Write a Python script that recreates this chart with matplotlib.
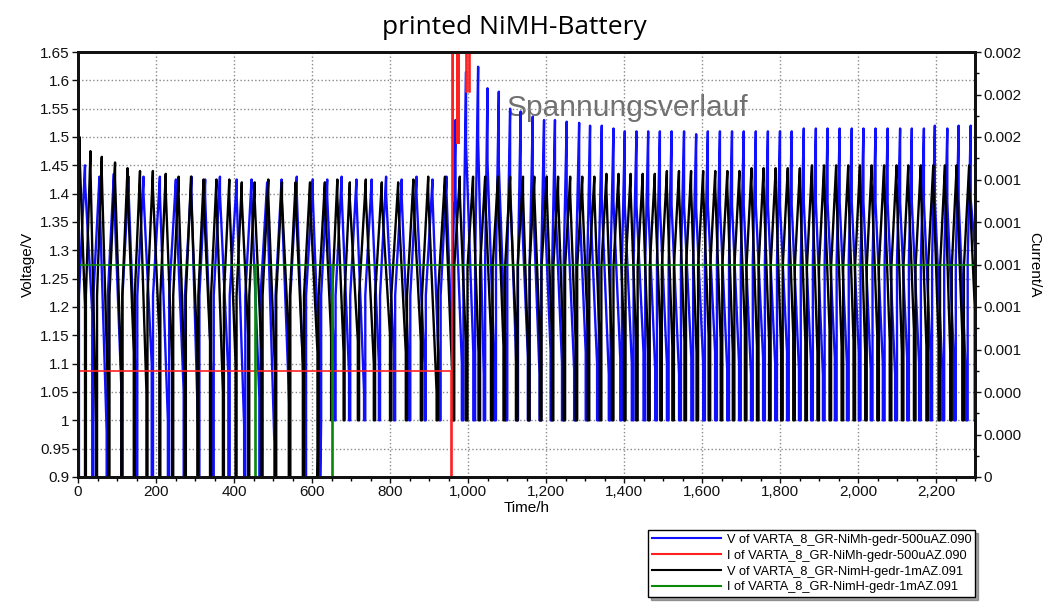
import numpy as np
import matplotlib
matplotlib.use('Agg')
import matplotlib.pyplot as plt
from matplotlib.lines import Line2D
from matplotlib.ticker import MultipleLocator, FuncFormatter

plt.rcParams['font.family'] = 'Liberation Sans'

# ── Voltage cycles, cell .090 (500 uA) ────────────────────────────────────
# phase 1: before the change at ~960 h
b1_peak_t = [18, 55, 92, 130, 168, 210, 251, 291, 326, 364, 407, 445, 485,
             522, 561, 602, 639, 676, 714, 753, 790, 830, 868, 909, 945]
b1_peak_v = [1.45, 1.43, 1.435, 1.43, 1.43, 1.43, 1.425, 1.43, 1.425, 1.43,
             1.425, 1.425, 1.42, 1.425, 1.43, 1.425, 1.425, 1.43, 1.425,
             1.425, 1.43, 1.425, 1.43, 1.425, 1.43]
b1_end_v = [1.19, 0.98, 1.06, 1.05, 1.10, 1.00, 1.05, 0.97, 1.02, 1.08,
            0.99, 1.04, 0.96, 1.03, 1.00, 1.06, 1.10, 1.08, 1.05, 1.10,
            1.12, 1.08, 1.10, 1.06, 1.05]
# phase 2: after ~960 h
b2_peak_t = [968, 995, 1026, 1050, 1079, 1108, 1135, 1166, 1195, 1223,
             1253, 1285, 1313, 1343, 1373, 1402, 1432, 1462, 1492, 1522,
             1554, 1585, 1615, 1646, 1677, 1707, 1738, 1769, 1800, 1830,
             1861, 1892, 1922, 1953, 1984, 2014, 2045, 2076, 2108, 2138,
             2169, 2197, 2229, 2258, 2289]
b2_peak_v = [1.53, 1.615, 1.624, 1.586, 1.58, 1.55, 1.545, 1.536, 1.53, 1.53,
             1.527, 1.525, 1.52, 1.52, 1.515, 1.51, 1.51, 1.51, 1.51, 1.51,
             1.51, 1.505, 1.51, 1.51, 1.51, 1.51, 1.51, 1.51, 1.51, 1.51,
             1.515, 1.515, 1.515, 1.515, 1.515, 1.515, 1.515, 1.515, 1.515,
             1.515, 1.515, 1.52, 1.515, 1.52, 1.52]
b2_end_v = [1.10, 1.12, 1.08, 1.10, 1.12, 1.09, 1.11, 1.08, 1.12, 1.10,
            1.09, 1.12, 1.10, 1.08, 1.11, 1.10, 1.12, 1.09, 1.10, 1.08,
            1.11, 1.10, 1.12, 1.09, 1.10, 1.08, 1.11, 1.10, 1.12, 1.09,
            1.10, 1.08, 1.11, 1.10, 1.12, 1.09, 1.10, 1.08, 1.11, 1.10,
            1.12, 1.09, 1.10, 1.08, 1.24]

# ── Voltage cycles, cell .091 (1 mA) ──────────────────────────────────────
k1_peak_t = [4, 32, 61, 95, 127, 159, 192, 225, 258, 290, 322, 355, 388, 420,
             453, 488, 523, 558, 595, 633, 665, 697, 738, 779, 821, 860, 898,
             941]
k1_peak_v = [1.50, 1.475, 1.465, 1.455, 1.445, 1.44, 1.44, 1.435, 1.43, 1.43,
             1.425, 1.425, 1.425, 1.42, 1.42, 1.425, 1.42, 1.42, 1.42, 1.42,
             1.425, 1.42, 1.425, 1.42, 1.42, 1.425, 1.43, 1.43]
k1_end_v = [1.20, 0.99, 1.02, 1.08, 1.12, 1.05, 1.15, 1.10, 1.06, 1.12, 1.14,
            1.05, 1.10, 1.15, 1.12, 1.08, 1.14, 1.10, 1.12, 1.15, 1.12, 1.14,
            1.10, 1.15, 1.12, 1.14, 1.05, 1.03]
k2_peak_t = [979, 1013, 1044, 1077, 1108, 1141, 1170, 1202, 1231, 1262, 1293,
             1324, 1355, 1386, 1417, 1448, 1479, 1510, 1541, 1572, 1603, 1634,
             1665, 1696, 1727, 1758, 1789, 1820, 1851, 1882, 1913, 1944, 1975,
             2005, 2035, 2067, 2099, 2129, 2161, 2193, 2223, 2253, 2285]
k2_peak_v = [1.43, 1.43, 1.43, 1.43, 1.43, 1.43, 1.43, 1.43, 1.43, 1.43, 1.43,
             1.43, 1.435, 1.435, 1.435, 1.435, 1.435, 1.44, 1.44, 1.44, 1.44,
             1.44, 1.44, 1.44, 1.445, 1.445, 1.445, 1.445, 1.445, 1.45, 1.45,
             1.45, 1.45, 1.45, 1.45, 1.45, 1.45, 1.45, 1.45, 1.45, 1.45,
             1.45, 1.45]
k2_end_v = [1.14, 1.12, 1.15, 1.13, 1.16, 1.12, 1.14, 1.15, 1.12, 1.14, 1.16,
            1.13, 1.12, 1.15, 1.14, 1.12, 1.16, 1.13, 1.14, 1.12, 1.15, 1.14,
            1.12, 1.16, 1.13, 1.14, 1.12, 1.15, 1.14, 1.12, 1.16, 1.13, 1.14,
            1.12, 1.15, 1.14, 1.12, 1.16, 1.13, 1.14, 1.12, 1.15, 1.20]

# discharge cut-off: runs down below the axis until ~620 h, then stops at 1.0 V
early_floor_v = 0.85
late_floor_v = 1.0
floor_change_h = 620

# ── Currents ──────────────────────────────────────────────────────────────
red_t = [0, 956, 956, 958, 958, 961, 961, 962, 962, 972, 972, 973, 973, 977,
         977, 978, 978, 995, 995, 997, 997, 1003, 1003, 1004, 1004, 2300]
red_i = [5e-4, 5e-4, 0, 0, 3e-3, 3e-3, 1.3e-3, 1.3e-3, 3e-3, 3e-3, 1.57e-3,
         1.57e-3, 3e-3, 3e-3, 1.57e-3, 1.57e-3, 3e-3, 3e-3, 1.81e-3, 1.81e-3,
         3e-3, 3e-3, 1.81e-3, 1.81e-3, 3e-3, 3e-3]
green_t = [0, 454, 454, 456, 456, 651, 651, 653, 653, 2300]
green_i = [1e-3, 1e-3, 0, 0, 1e-3, 1e-3, 0, 0, 1e-3, 1e-3]

LABELS = ['V of VARTA_8_GR-NiMh-gedr-500uAZ.090',
          'I of VARTA_8_GR-NiMh-gedr-500uAZ.090',
          'V of VARTA_8_GR-NimH-gedr-1mAZ.091',
          'I of VARTA_8_GR-NimH-gedr-1mAZ.091']

BLUE, RED, BLACK, GREEN = '#1010ff', '#ff2020', '#000000', '#0a8a0a'


def cycle_path(peak_t, peak_v, end_v, start_v, rise, fall, drop):
    """Polyline for charge/discharge cycles: floor -> start -> peak -> end -> floor."""
    t, v = [], []
    n = len(peak_t)
    for i in range(n):
        tp = peak_t[i]
        g_prev = tp - peak_t[i - 1] if i > 0 else peak_t[1] - tp
        g_next = peak_t[i + 1] - tp if i < n - 1 else g_prev
        fl = early_floor_v if tp < floor_change_h else late_floor_v
        t0 = tp - rise * g_prev
        t1 = tp + fall * g_next
        t += [t0, t0, tp, tp, t1, t1]
        v += [fl, start_v, peak_v[i], peak_v[i] - drop, end_v[i], fl]
    return t, v


fig = plt.figure(figsize=(10.43, 6.04), dpi=100)
ax = fig.add_axes([78 / 1043, 1 - 477 / 604, 897 / 1043, 425 / 604])
ax2 = ax.twinx()

bt1, bv1 = cycle_path(b1_peak_t, b1_peak_v, b1_end_v, 1.22, 0.42, 0.5, 0.03)
bt2, bv2 = cycle_path(b2_peak_t, b2_peak_v, b2_end_v, 1.28, 0.25, 0.6, 0.13)
kt1, kv1 = cycle_path(k1_peak_t, k1_peak_v, k1_end_v, 1.22, 0.42, 0.5, 0.03)
kt2, kv2 = cycle_path(k2_peak_t, k2_peak_v, k2_end_v, 1.27, 0.42, 0.45, 0.03)

ax.plot(bt1 + bt2, bv1 + bv2, color=BLUE, lw=1.7, zorder=3)
ax.plot(kt1 + kt2, kv1 + kv2, color=BLACK, lw=1.7, zorder=3)
ax2.plot(red_t, red_i, color=RED, lw=1.2)
ax2.plot(green_t, green_i, color=GREEN, lw=1.2)

ax.set_xlim(0, 2300)
ax.set_ylim(0.9, 1.65)
ax2.set_ylim(0, 0.002)

ax.xaxis.set_major_locator(MultipleLocator(200))
ax.xaxis.set_minor_locator(MultipleLocator(50))
ax.yaxis.set_major_locator(MultipleLocator(0.05))
ax2.yaxis.set_major_locator(MultipleLocator(0.0002))
ax2.yaxis.set_minor_locator(MultipleLocator(0.0001))

ax.xaxis.set_major_formatter(FuncFormatter(lambda x, p: f'{int(round(x)):,}'))
ax.yaxis.set_major_formatter(FuncFormatter(lambda y, p: f'{round(y, 2):g}'))
ax2.yaxis.set_major_formatter(FuncFormatter(lambda y, p: '0' if abs(y) < 1e-9 else f'{y:.3f}'))

for a in (ax, ax2):
    a.tick_params(which='major', direction='out', length=4, width=1,
                  labelsize=11, pad=2, colors='#111111')
    a.tick_params(which='minor', direction='out', length=3, width=1)
    for s in a.spines.values():
        s.set_linewidth(2)
        s.set_color('#111111')

ax.grid(True, which='major', linestyle=':', color='#8a8a8a', lw=1)

ax.set_xlabel('Time/h', fontsize=11, labelpad=1)
ax.set_ylabel('Voltage/V', fontsize=11, labelpad=4)
ax2.set_ylabel('Current/A', fontsize=11, rotation=270, labelpad=14)

ax.text(0.613, 0.868, 'Spannungsverlauf', transform=ax.transAxes,
        fontsize=21.5, color='#707070', ha='center', va='center', zorder=1)

fig.text(0.493, 0.955, 'printed NiMH-Battery', ha='center', va='center',
         fontsize=19, family='Open Sans')

handles = [Line2D([], [], color=c, lw=1.5) for c in (BLUE, RED, BLACK, GREEN)]
leg = fig.legend(handles, LABELS, loc='upper right',
                 bbox_to_anchor=(975 / 1043, 1 - 530 / 604), fontsize=9.2,
                 frameon=True, fancybox=False, shadow=True, edgecolor='black',
                 handlelength=5.4, labelspacing=0.3, borderaxespad=0,
                 borderpad=0.3, handletextpad=0.45)
leg.get_frame().set_linewidth(1)

fig.savefig('out.png', dpi=100)
